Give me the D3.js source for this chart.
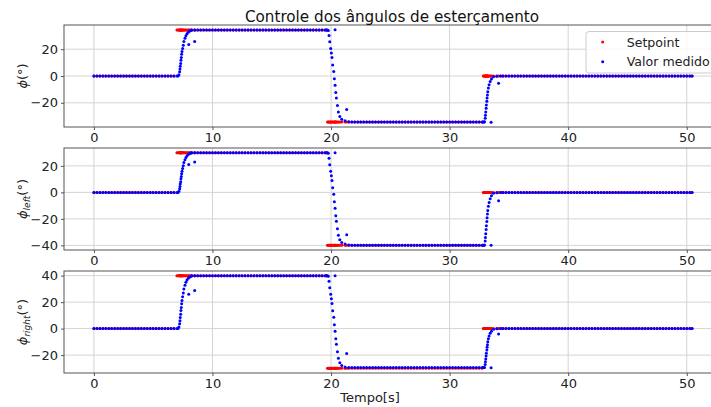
<!DOCTYPE html>
<meta charset="utf-8">
<head>
    <title>Controle dos ângulos de esterçamento</title>
</head>
<style>
    body { margin: 0; background: #fff; }
    svg { font-family: "DejaVu Sans", sans-serif; }
</style>
<div id="graph_div"></div>
<script src="https://d3js.org/d3.v7.min.js"></script>
<script>
// tempo das amostras [s]
var tempo = [
    // parado
    0, 0.25, 0.5, 0.75, 1, 1.25, 1.5, 1.75, 2, 2.25, 2.5, 2.75, 3, 3.25, 3.5,
    3.75, 4, 4.25, 4.5, 4.75, 5, 5.25, 5.5, 5.75, 6, 6.25, 6.5, 6.75, 7,
    // subida 1
    7.1, 7.17, 7.23, 7.26, 7.28, 7.32, 7.34, 7.37, 7.4, 7.43,
    7.48, 7.54, 7.59, 7.68, 7.76, 7.85, 7.96, 8.0, 8.08, 8.2,
    // patamar alto
    8.25, 8.5, 8.5, 8.75, 9, 9.25, 9.5, 9.75, 10, 10.25, 10.5, 10.75, 11, 11.25, 11.5,
    11.75, 12, 12.25, 12.5, 12.75, 13, 13.25, 13.5, 13.75, 14, 14.25, 14.5, 14.75, 15, 15.25,
    15.5, 15.75, 16, 16.25, 16.5, 16.75, 17, 17.25, 17.5, 17.75, 18, 18.25, 18.5, 18.75, 19,
    19.25, 19.5, 19.62,
    // descida
    19.7, 19.77, 19.83, 19.89, 19.97, 20.03, 20.08, 20.14, 20.23, 20.28,
    20.34, 20.34, 20.4, 20.45, 20.54, 20.62, 20.74, 20.9, 21.18, 21.32, 21.5,
    // patamar baixo
    21.75, 22, 22.25, 22.5, 22.75, 23, 23.25, 23.5, 23.75, 24, 24.25, 24.5, 24.75, 25, 25.25,
    25.5, 25.75, 26, 26.25, 26.5, 26.75, 27, 27.25, 27.5, 27.75, 28, 28.25, 28.5, 28.75, 29,
    29.25, 29.5, 29.75, 30, 30.25, 30.5, 30.75, 31, 31.25, 31.5, 31.75, 32, 32.25, 32.5, 32.75,
    32.84,
    // subida 2
    32.9, 32.94, 33, 33.02, 33.05, 33.08, 33.1, 33.14, 33.16, 33.19,
    33.22, 33.27, 33.33, 33.42, 33.5, 33.53, 33.7, 33.98, 34.13, 34.3,
    // parado
    34.5, 34.75, 35, 35.25, 35.5, 35.75, 36, 36.25, 36.5, 36.75, 37, 37.25, 37.5, 37.75, 38,
    38.25, 38.5, 38.75, 39, 39.25, 39.5, 39.75, 40, 40.25, 40.5, 40.75, 41, 41.25, 41.5, 41.75,
    42, 42.25, 42.5, 42.75, 43, 43.25, 43.5, 43.75, 44, 44.25, 44.5, 44.75, 45, 45.25, 45.5,
    45.75, 46, 46.25, 46.5, 46.75, 47, 47.25, 47.5, 47.75, 48, 48.25, 48.5, 48.75, 49, 49.25,
    49.5, 49.75, 50, 50.25, 50.45
];

// valor medido phi [graus]
var phi = [
    0, 0, 0, 0, 0, 0, 0, 0, 0, 0, 0, 0, 0, 0, 0,
    0, 0, 0, 0, 0, 0, 0, 0, 0, 0, 0, 0, 0, 0,
    0, 1, 3.1, 5.2, 7.2, 9.3, 11.7, 13.8, 16.2, 18.2,
    20.6, 23, 25.8, 28.2, 30.1, 31.6, 32.7, 23.5, 33.5, 34.1,
    34.4, 34.4, 25.7, 34.4, 34.4, 34.4, 34.4, 34.4, 34.4, 34.4, 34.4, 34.4, 34.4, 34.4, 34.4,
    34.4, 34.4, 34.4, 34.4, 34.4, 34.4, 34.4, 34.4, 34.4, 34.4, 34.4, 34.4, 34.4, 34.4, 34.4,
    34.4, 34.4, 34.4, 34.4, 34.4, 34.4, 34.4, 34.4, 34.4, 34.4, 34.4, 34.4, 34.4, 34.4, 34.4,
    34.4, 34.4, 34.4,
    34.4, 33.9, 30.3, 25.5, 20.6, 17.2, 13.8, 8.3, 3.4, -2.1,
    -6.9, 34.6, -12.4, -16.5, -22, -26.8, -30.3, -32.3, -33.4, -25, -34.1,
    -34.4, -34.4, -34.4, -34.4, -34.4, -34.4, -34.4, -34.4, -34.4, -34.4, -34.4, -34.4, -34.4, -34.4, -34.4,
    -34.4, -34.4, -34.4, -34.4, -34.4, -34.4, -34.4, -34.4, -34.4, -34.4, -34.4, -34.4, -34.4, -34.4, -34.4,
    -34.4, -34.4, -34.4, -34.4, -34.4, -34.4, -34.4, -34.4, -34.4, -34.4, -34.4, -34.4, -34.4, -34.4, -34.4,
    -34.4,
    -34.4, -34.2, -31.6, -29.2, -26.8, -24.1, -21.7, -18.9, -16.5, -14.1,
    -11.7, -8.9, -6.5, -4.1, -34.6, -2.2, -0.5, -0.2, -5.4, 0,
    0, 0, 0, 0, 0, 0, 0, 0, 0, 0, 0, 0, 0, 0, 0,
    0, 0, 0, 0, 0, 0, 0, 0, 0, 0, 0, 0, 0, 0, 0,
    0, 0, 0, 0, 0, 0, 0, 0, 0, 0, 0, 0, 0, 0, 0,
    0, 0, 0, 0, 0, 0, 0, 0, 0, 0, 0, 0, 0, 0, 0,
    0, 0, 0, 0, 0
];

var phiLeft = [
    0, 0, 0, 0, 0, 0, 0, 0, 0, 0, 0, 0, 0, 0, 0,
    0, 0, 0, 0, 0, 0, 0, 0, 0, 0, 0, 0, 0, 0,
    0, 0.9, 2.7, 4.5, 6.3, 8.1, 10.2, 12, 14.1, 15.9,
    18, 20.1, 22.5, 24.6, 26.3, 27.6, 28.5, 21, 29.3, 29.7,
    30, 30, 23, 30, 30, 30, 30, 30, 30, 30, 30, 30, 30, 30, 30,
    30, 30, 30, 30, 30, 30, 30, 30, 30, 30, 30, 30, 30, 30, 30,
    30, 30, 30, 30, 30, 30, 30, 30, 30, 30, 30, 30, 30, 30, 30,
    30, 30, 30,
    30, 29.5, 25.8, 20.9, 16, 12.5, 9, 3.4, -1.5, -7.1,
    -12, 30, -17.6, -21.8, -27.4, -32.3, -35.8, -37.9, -39, -32, -39.7,
    -40, -40, -40, -40, -40, -40, -40, -40, -40, -40, -40, -40, -40, -40, -40,
    -40, -40, -40, -40, -40, -40, -40, -40, -40, -40, -40, -40, -40, -40, -40,
    -40, -40, -40, -40, -40, -40, -40, -40, -40, -40, -40, -40, -40, -40, -40,
    -40,
    -40, -39.8, -36.8, -34, -31.2, -28, -25.2, -22, -19.2, -16.4,
    -13.6, -10.4, -7.6, -4.8, -40, -2.6, -0.6, -0.2, -6.4, 0,
    0, 0, 0, 0, 0, 0, 0, 0, 0, 0, 0, 0, 0, 0, 0,
    0, 0, 0, 0, 0, 0, 0, 0, 0, 0, 0, 0, 0, 0, 0,
    0, 0, 0, 0, 0, 0, 0, 0, 0, 0, 0, 0, 0, 0, 0,
    0, 0, 0, 0, 0, 0, 0, 0, 0, 0, 0, 0, 0, 0, 0,
    0, 0, 0, 0, 0
];

var phiRight = [
    0, 0, 0, 0, 0, 0, 0, 0, 0, 0, 0, 0, 0, 0, 0,
    0, 0, 0, 0, 0, 0, 0, 0, 0, 0, 0, 0, 0, 0,
    0, 1.2, 3.6, 6, 8.4, 10.8, 13.6, 16, 18.8, 21.2,
    24, 26.8, 30, 32.8, 35, 36.8, 38, 26, 39, 39.6,
    40, 40, 28.7, 40, 40, 40, 40, 40, 40, 40, 40, 40, 40, 40, 40,
    40, 40, 40, 40, 40, 40, 40, 40, 40, 40, 40, 40, 40, 40, 40,
    40, 40, 40, 40, 40, 40, 40, 40, 40, 40, 40, 40, 40, 40, 40,
    40, 40, 40,
    40, 39.5, 35.8, 30.9, 26, 22.5, 19, 13.4, 8.5, 2.9,
    -2, 40, -7.6, -11.8, -17.4, -22.3, -25.8, -27.9, -29, -18.8, -29.4,
    -29.4, -29.4, -29.4, -29.4, -29.4, -29.4, -29.4, -29.4, -29.4, -29.4, -29.4, -29.4, -29.4, -29.4, -29.4,
    -29.4, -29.4, -29.4, -29.4, -29.4, -29.4, -29.4, -29.4, -29.4, -29.4, -29.4, -29.4, -29.4, -29.4, -29.4,
    -29.4, -29.4, -29.4, -29.4, -29.4, -29.4, -29.4, -29.4, -29.4, -29.4, -29.4, -29.4, -29.4, -29.4, -29.4,
    -29.4,
    -29.4, -29.3, -27, -25, -22.9, -20.6, -18.5, -16.2, -14.1, -12.1,
    -10, -7.6, -5.6, -3.5, -29.6, -1.9, -0.4, -0.1, -4, 0,
    0, 0, 0, 0, 0, 0, 0, 0, 0, 0, 0, 0, 0, 0, 0,
    0, 0, 0, 0, 0, 0, 0, 0, 0, 0, 0, 0, 0, 0, 0,
    0, 0, 0, 0, 0, 0, 0, 0, 0, 0, 0, 0, 0, 0, 0,
    0, 0, 0, 0, 0, 0, 0, 0, 0, 0, 0, 0, 0, 0, 0,
    0, 0, 0, 0, 0
];

// setpoint: instantes das trocas e niveis de cada trecho
var trocas = [7.0, 19.65, 32.78];
var setPhi = [0, 34.4, -34.4, 0];
var setLeft = [0, 30, -40, 0];
var setRight = [0, 40, -30, 0];

var xTicks = [0, 10, 20, 30, 40, 50];
var yTicksPhi = [-20, 0, 20];
var yTicksLeft = [-40, -20, 0, 20];
var yTicksRight = [-20, 0, 20, 40];

[phi, phiLeft, phiRight].forEach(function(a) {
    if (a.length !== tempo.length) console.error("tamanho errado", a.length, tempo.length);
});

var width = 711, height = 407;
var left = 64, right = 722, ph = 102;

function margem(ext) {
    var m = (ext[1] - ext[0]) * 0.05;
    return [ext[0] - m, ext[1] + m];
}

var svg = d3.select("#graph_div")
  .append("svg")
    .attr("width", width)
    .attr("height", height);

var x = d3.scaleLinear()
    .domain(margem(d3.extent(tempo)))
    .range([left, right]);

var paineis = [
    {val: phi, sp: setPhi, ticks: yTicksPhi, top: 25, sub: null},
    {val: phiLeft, sp: setLeft, ticks: yTicksLeft, top: 148, sub: "left"},
    {val: phiRight, sp: setRight, ticks: yTicksRight, top: 271, sub: "right"}
];

paineis.forEach(function(p) {
    var spv = tempo.map(function(t) { return p.sp[d3.bisectRight(trocas, t)]; });
    var y = d3.scaleLinear()
        .domain(margem(d3.extent(p.val.concat(spv))))
        .range([p.top + ph, p.top]);

    var g = svg.append("g");

    // grade
    g.selectAll(".gx").data(xTicks).enter().append("line")
        .attr("x1", function(d) { return x(d); })
        .attr("x2", function(d) { return x(d); })
        .attr("y1", p.top).attr("y2", p.top + ph)
        .attr("stroke", "#d4d4d4").attr("stroke-width", 1);
    g.selectAll(".gy").data(p.ticks).enter().append("line")
        .attr("x1", left).attr("x2", right)
        .attr("y1", function(d) { return y(d); })
        .attr("y2", function(d) { return y(d); })
        .attr("stroke", "#d4d4d4").attr("stroke-width", 1);

    // setpoint
    g.selectAll(".sp").data(tempo).enter().append("circle")
        .attr("cx", function(d) { return x(d); })
        .attr("cy", function(d, i) { return y(spv[i]); })
        .attr("r", 1.5)
        .attr("fill", "#ff0000");

    // valor medido
    g.selectAll(".med").data(tempo).enter().append("circle")
        .attr("cx", function(d) { return x(d); })
        .attr("cy", function(d, i) { return y(p.val[i]); })
        .attr("r", 1.5)
        .attr("fill", "#0000ff");

    // eixos
    var xa = g.append("g")
        .attr("transform", "translate(0," + (p.top + ph) + ")")
        .call(d3.axisBottom(x).tickValues(xTicks).tickSize(3).tickPadding(2.5).tickFormat(d3.format("d")));
    var ya = g.append("g")
        .attr("transform", "translate(" + left + ",0)")
        .call(d3.axisLeft(y).tickValues(p.ticks).tickSize(3).tickPadding(3));
    [xa, ya].forEach(function(a) {
        a.select(".domain").remove();
        a.selectAll("line").attr("stroke", "#555");
        a.selectAll("text").attr("fill", "#222").style("font-size", "13px").style("font-family", "DejaVu Sans");
    });

    g.append("rect")
        .attr("x", left).attr("y", p.top)
        .attr("width", right - left).attr("height", ph)
        .attr("fill", "none").attr("stroke", "#555").attr("stroke-width", 1);

    // rotulo y
    var lab = svg.append("text")
        .attr("transform", "translate(27," + (p.top + ph / 2) + ") rotate(-90)")
        .attr("text-anchor", "middle")
        .attr("fill", "#222")
        .style("font-size", "13px");
    lab.append("tspan").style("font-style", "italic").text("\u03d5");
    if (p.sub) {
        lab.append("tspan").style("font-style", "italic").style("font-size", "9px")
            .attr("dy", 3).text(p.sub);
        lab.append("tspan").attr("dy", -3).text("(\u00b0)");
    } else {
        lab.append("tspan").text("(\u00b0)");
    }
});

// titulo e rotulo x
svg.append("text")
    .attr("x", 392).attr("y", 22)
    .attr("text-anchor", "middle")
    .attr("fill", "#111")
    .style("font-size", "15.2px")
    .text("Controle dos ângulos de esterçamento");

svg.append("text")
    .attr("x", 370).attr("y", 402)
    .attr("text-anchor", "middle")
    .attr("fill", "#222")
    .style("font-size", "13px")
    .text("Tempo[s]");

// legenda
var leg = svg.append("g");
leg.append("rect")
    .attr("x", 586).attr("y", 31.5)
    .attr("width", 140).attr("height", 41.5)
    .attr("rx", 3)
    .attr("fill", "#fff").attr("fill-opacity", 0.8)
    .attr("stroke", "#cccccc");
var itens = [{nome: "Setpoint", cor: "#ff0000"}, {nome: "Valor medido", cor: "#0000ff"}];
itens.forEach(function(it, i) {
    leg.append("circle")
        .attr("cx", 602.7).attr("cy", 42 + i * 19.7)
        .attr("r", 1.5).attr("fill", it.cor);
    leg.append("text")
        .attr("x", 626.7).attr("y", 46.5 + i * 19.7)
        .attr("fill", "#222")
        .style("font-size", "12.6px")
        .text(it.nome);
});
</script>
